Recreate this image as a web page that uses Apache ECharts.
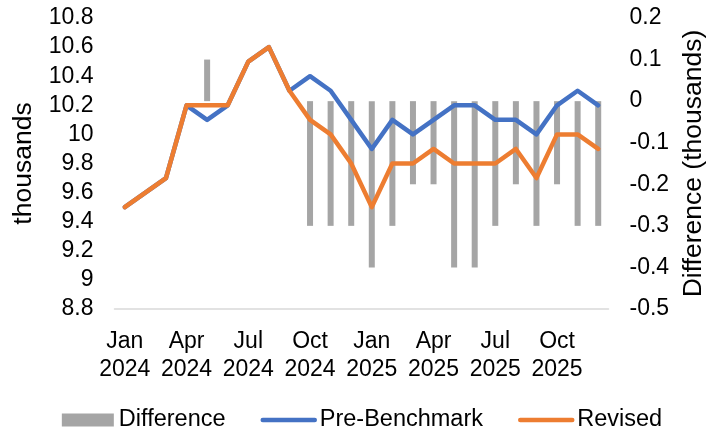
<!DOCTYPE html>
<html>
<head>
<meta charset="utf-8">
<script src="https://cdn.jsdelivr.net/npm/echarts@6/dist/echarts.min.js"></script>
<style>
  html, body { margin: 0; padding: 0; background: #fff; }
  #chart { width: 724px; height: 429px; }
</style>
</head>
<body>
<div id="chart"></div>
<script>
// Monthly employment levels (thousands), Jan 2024 – Dec 2025
const months = [
  "Jan 2024", "Feb 2024", "Mar 2024", "Apr 2024", "May 2024", "Jun 2024",
  "Jul 2024", "Aug 2024", "Sep 2024", "Oct 2024", "Nov 2024", "Dec 2024",
  "Jan 2025", "Feb 2025", "Mar 2025", "Apr 2025", "May 2025", "Jun 2025",
  "Jul 2025", "Aug 2025", "Sep 2025", "Oct 2025", "Nov 2025", "Dec 2025"
];

const preBenchmark = [
  9.5, 9.6, 9.7, 10.2, 10.1, 10.2,
  10.5, 10.6, 10.3, 10.4, 10.3, 10.1,
  9.9, 10.1, 10.0, 10.1, 10.2, 10.2,
  10.1, 10.1, 10.0, 10.2, 10.3, 10.2
];

const revised = [
  9.5, 9.6, 9.7, 10.2, 10.2, 10.2,
  10.5, 10.6, 10.3, 10.1, 10.0, 9.8,
  9.5, 9.8, 9.8, 9.9, 9.8, 9.8,
  9.8, 9.9, 9.7, 10.0, 10.0, 9.9
];

// Revised minus pre-benchmark
const difference = [
  0, 0, 0, 0, 0.1, 0,
  0, 0, 0, -0.3, -0.3, -0.3,
  -0.4, -0.3, -0.2, -0.2, -0.4, -0.4,
  -0.3, -0.2, -0.3, -0.2, -0.3, -0.3
];

const FONT = "Liberation Sans, Arial, sans-serif";
const TXT = { color: "#000", fontFamily: FONT, fontSize: 23 };
const TITLE = { color: "#000", fontFamily: FONT, fontSize: 26.5 };
const fmt1 = v => String(parseFloat(Number(v).toFixed(1)));
const LINE_W = 4.5;

const chart = echarts.init(document.getElementById("chart"), null, { renderer: "canvas" });

chart.setOption({
  animation: false,
  backgroundColor: "#fff",
  textStyle: { fontFamily: FONT },
  grid: { left: 114.5, right: 115.5, top: 18, bottom: 120, containLabel: false },
  legend: {
    left: "center",
    top: 403,
    itemWidth: 52,
    itemHeight: 13,
    itemGap: 35,
    lineStyle: { width: LINE_W, cap: "round" },
    textStyle: { color: "#000", fontFamily: FONT, fontSize: 23.5 },
    data: [
      { name: "Difference", icon: "rect" },
      { name: "Pre-Benchmark", itemStyle: { opacity: 0 } },
      { name: "Revised", itemStyle: { opacity: 0 } }
    ]
  },
  xAxis: {
    type: "category",
    data: months,
    boundaryGap: true,
    axisLine: { show: true, onZero: false, lineStyle: { color: "#D9D9D9", width: 1.5 } },
    axisTick: { show: false },
    splitLine: { show: false },
    axisLabel: Object.assign({
      interval: 2,
      margin: 19,
      lineHeight: 28,
      formatter: v => v.replace(" ", "\n")
    }, TXT)
  },
  yAxis: [
    {
      type: "value",
      min: 8.8,
      max: 10.8,
      interval: 0.2,
      name: "thousands",
      nameLocation: "middle",
      nameRotate: 90,
      nameGap: 77.5,
      nameTextStyle: TITLE,
      axisLine: { show: false },
      axisTick: { show: false },
      splitLine: { show: false },
      axisLabel: Object.assign({ margin: 21, formatter: fmt1 }, TXT)
    },
    {
      type: "value",
      min: -0.5,
      max: 0.2,
      interval: 0.1,
      name: "Difference (thousands)",
      nameLocation: "middle",
      nameRotate: 90,
      nameGap: 72,
      nameTextStyle: TITLE,
      axisLine: { show: false },
      axisTick: { show: false },
      splitLine: { show: false },
      axisLabel: Object.assign({ margin: 21, formatter: fmt1 }, TXT)
    }
  ],
  series: [
    {
      name: "Difference",
      type: "bar",
      yAxisIndex: 1,
      data: difference,
      barWidth: 6,
      itemStyle: { color: "#A5A5A5" }
    },
    {
      name: "Pre-Benchmark",
      type: "line",
      yAxisIndex: 0,
      data: preBenchmark,
      symbol: "none",
      lineStyle: { color: "#4472C4", width: LINE_W, cap: "round", join: "round" },
      itemStyle: { color: "#4472C4" }
    },
    {
      name: "Revised",
      type: "line",
      yAxisIndex: 0,
      data: revised,
      symbol: "none",
      lineStyle: { color: "#ED7D31", width: LINE_W, cap: "round", join: "round" },
      itemStyle: { color: "#ED7D31" }
    }
  ]
});
</script>
</body>
</html>
